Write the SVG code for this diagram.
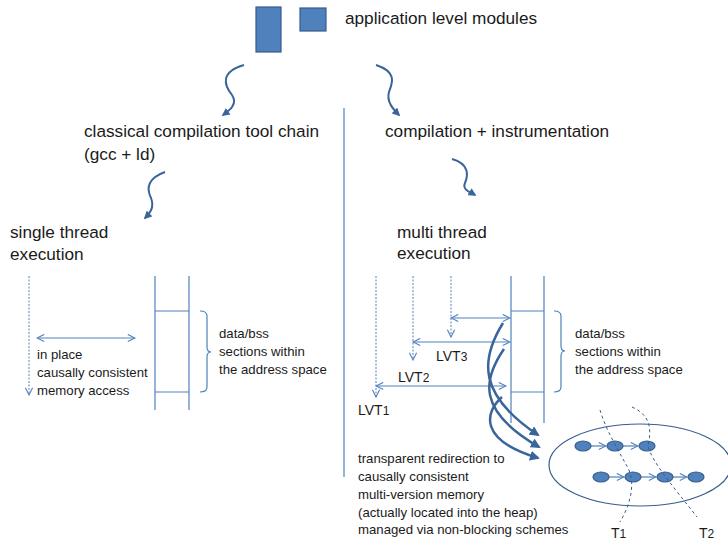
<svg xmlns="http://www.w3.org/2000/svg" width="728" height="540" viewBox="0 0 728 540">
<style>
.t{font-family:"Liberation Sans",Arial,sans-serif;fill:#1a1a1a}
.big{font-size:17.2px}
.sm{font-size:13.2px}
.lb{font-size:14px}
.thin{stroke:#4F81BD;stroke-width:1.2;fill:none}
.dash{stroke:#4F81BD;stroke-width:1;stroke-dasharray:2,1.5;fill:none}
.wave{stroke:#3A659A;stroke-width:2;fill:none}
.thick{stroke:#3A659A;stroke-width:2.5;fill:none}
.node{fill:#4F81BD;stroke:#385D8A;stroke-width:1.2}
.tdash{stroke:#385D8A;stroke-width:1;stroke-dasharray:3,3;fill:none}
</style>
<defs>
<marker id="open" viewBox="0 0 10 10" refX="9" refY="5" markerWidth="9" markerHeight="9" markerUnits="userSpaceOnUse" orient="auto-start-reverse">
<path d="M1,1 L9,5 L1,9" fill="none" stroke="#4F81BD" stroke-width="1.2"/>
</marker>
<marker id="fill" viewBox="0 0 10 10" refX="8" refY="5" markerWidth="10" markerHeight="10" markerUnits="userSpaceOnUse" orient="auto">
<path d="M0,0 L10,5 L0,10 Z" fill="#3A659A"/>
</marker>
<marker id="fillS" viewBox="0 0 10 10" refX="8" refY="5" markerWidth="8" markerHeight="8" markerUnits="userSpaceOnUse" orient="auto">
<path d="M0,0 L10,5 L0,10 Z" fill="#3A659A"/>
</marker>
</defs>

<g id="modules">
<rect x="256" y="7" width="25" height="45" class="node"/>
<rect x="300" y="8" width="26" height="23" class="node"/>
<text x="345" y="24" class="t big">application level modules</text>
</g>

<g id="classical">
<text x="84" y="137" class="t big">classical compilation tool chain</text>
<text x="84" y="160" class="t big">(gcc + ld)</text>
</g>
<g id="instrumented">
<text x="385" y="137" class="t big">compilation + instrumentation</text>
</g>
<g id="single">
<text x="10" y="238" class="t big">single thread</text>
<text x="10" y="260" class="t big">execution</text>
</g>
<g id="multi">
<text x="397" y="238" class="t big">multi thread</text>
<text x="397" y="259" class="t big">execution</text>
</g>

<g id="divider">
<line x1="344" y1="108" x2="344" y2="477" class="thin"/>
</g>

<g id="connectors">
<path d="M244,65 C220,72 224,85 232,95 C238,104 230,110 223,115" class="wave" marker-end="url(#fillS)"/>
<path d="M376,65 C398,72 392,84 389,92 C386,102 394,110 399,115" class="wave" marker-end="url(#fillS)"/>
<path d="M165,172 C148,178 146,188 151,198 C155,208 149,214 145,218" class="wave" marker-end="url(#fillS)"/>
<path d="M452,159 C470,164 468,176 465,183 C462,190 470,192 475,195" class="wave" marker-end="url(#fillS)"/>
</g>

<g id="single-mem">
<line x1="29" y1="276" x2="29" y2="395" class="dash" marker-end="url(#open)"/>
<line x1="37" y1="338" x2="135" y2="338" class="thin" marker-start="url(#open)" marker-end="url(#open)"/>
<text x="37" y="359" class="t sm">in place</text>
<text x="37" y="377" class="t sm">causally consistent</text>
<text x="37" y="395" class="t sm">memory access</text>
<line x1="155" y1="276" x2="155" y2="410" class="thin"/>
<line x1="189" y1="276" x2="189" y2="410" class="thin"/>
<line x1="155" y1="311" x2="189" y2="311" class="thin"/>
<line x1="155" y1="392" x2="189" y2="392" class="thin"/>
<path d="M200,311 Q207,311 207,316 L207,347 Q207,352 211,352 Q207,352 207,357 L207,387 Q207,392 200,392" class="thin"/>
<text x="219" y="338" class="t sm">data/bss</text>
<text x="219" y="356" class="t sm">sections within</text>
<text x="219" y="374" class="t sm">the address space</text>
</g>

<g id="multi-mem">
<line x1="376" y1="276" x2="376" y2="397" class="dash" marker-end="url(#open)"/>
<line x1="413" y1="276" x2="413" y2="360" class="dash" marker-end="url(#open)"/>
<line x1="451" y1="276" x2="451" y2="337" class="dash" marker-end="url(#open)"/>
<line x1="451" y1="318" x2="510" y2="318" class="thin" marker-start="url(#open)" marker-end="url(#open)"/>
<line x1="413" y1="342" x2="510" y2="342" class="thin" marker-start="url(#open)" marker-end="url(#open)"/>
<line x1="376" y1="386" x2="506" y2="386" class="thin" marker-start="url(#open)" marker-end="url(#open)"/>
<text x="436" y="361" class="t lb">LVT<tspan font-size="12">3</tspan></text>
<text x="398" y="382" class="t lb">LVT<tspan font-size="12">2</tspan></text>
<text x="358" y="415" class="t lb">LVT<tspan font-size="12">1</tspan></text>
<line x1="511" y1="276" x2="511" y2="423" class="thin"/>
<line x1="544" y1="276" x2="544" y2="423" class="thin"/>
<line x1="511" y1="311" x2="544" y2="311" class="thin"/>
<line x1="511" y1="392" x2="544" y2="392" class="thin"/>
<path d="M554,311 Q561,311 561,316 L561,346 Q561,351 565,351 Q561,351 561,356 L561,387 Q561,392 554,392" class="thin"/>
<text x="575" y="338" class="t sm">data/bss</text>
<text x="575" y="356" class="t sm">sections within</text>
<text x="575" y="374" class="t sm">the address space</text>
</g>

<g id="redirection">
<path d="M503,323 C480,360 478,395 538,435" class="thick" marker-end="url(#fill)"/>
<path d="M504,349 C484,378 475,410 539,447" class="thick" marker-end="url(#fill)"/>
<path d="M502,397 C485,412 478,440 538,458" class="thick" marker-end="url(#fill)"/>
<text x="358" y="463" class="t sm">transparent redirection to</text>
<text x="358" y="481" class="t sm">causally consistent</text>
<text x="358" y="499" class="t sm">multi-version memory</text>
<text x="358" y="517" class="t sm">(actually located into the heap)</text>
<text x="358" y="534" class="t sm">managed via non-blocking schemes</text>
</g>

<g id="heap">
<ellipse cx="640" cy="465" rx="91" ry="41" fill="none" stroke="#385D8A" stroke-width="1.2"/>
<line x1="591" y1="446" x2="606" y2="446" class="thin" marker-end="url(#open)"/>
<line x1="623" y1="446" x2="638" y2="446" class="thin" marker-end="url(#open)"/>
<line x1="609" y1="477" x2="624" y2="477" class="thin" marker-end="url(#open)"/>
<line x1="641" y1="477" x2="656" y2="477" class="thin" marker-end="url(#open)"/>
<line x1="673" y1="477" x2="687" y2="477" class="thin" marker-end="url(#open)"/>
<ellipse cx="583" cy="446" rx="8" ry="5" class="node"/>
<ellipse cx="615" cy="446" rx="8" ry="5" class="node"/>
<ellipse cx="647" cy="446" rx="8" ry="5" class="node"/>
<ellipse cx="601" cy="477" rx="8" ry="5" class="node"/>
<ellipse cx="633" cy="477" rx="8" ry="5" class="node"/>
<ellipse cx="665" cy="477" rx="8" ry="5" class="node"/>
<ellipse cx="696" cy="477" rx="8" ry="5" class="node"/>
<path d="M600,410 C606,430 618,450 628,468 C636,484 630,505 620,522" class="tdash"/>
<path d="M632,407 C650,415 652,428 648,446 C652,462 672,485 697,517" class="tdash"/>
<text x="611" y="538" class="t lb">T<tspan font-size="12">1</tspan></text>
<text x="699" y="538" class="t lb">T<tspan font-size="12">2</tspan></text>
</g>
</svg>
